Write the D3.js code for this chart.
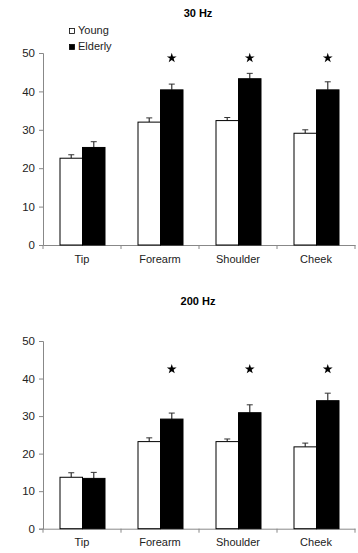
<!DOCTYPE html>
<html><head><meta charset="utf-8">
<script src="https://cdn.jsdelivr.net/npm/d3@7"></script>
<style>
body{margin:0;background:#fff;}
svg{display:block;font-family:Arial,"Liberation Sans",Helvetica,sans-serif;}
</style></head>
<body><svg id="c" width="358" height="553"></svg>
<script>
const categories = ["Tip","Forearm","Shoulder","Cheek"];
const series = ["Young","Elderly"];
const yTicks = [0,10,20,30,40,50];

const young30 = [22.6,32.0,32.4,29.1];
const youngErr30 = [0.9,1.1,0.8,0.9];
const elderly30 = [25.4,40.4,43.3,40.4];
const elderlyErr30 = [1.5,1.5,1.4,2.1];
const stars30 = [null,48.7,48.7,48.7];

const young200 = [13.7,23.2,23.2,21.8];
const youngErr200 = [1.2,1.0,0.7,1.0];
const elderly200 = [13.4,29.2,30.9,34.1];
const elderlyErr200 = [1.6,1.6,2.1,2.0];
const stars200 = [null,42.5,42.5,42.5];

const panels = [
  {title:"30 Hz", young:young30, yErr:youngErr30, elderly:elderly30, eErr:elderlyErr30, stars:stars30, top:53, bottom:245, titleY:17, legend:true},
  {title:"200 Hz", young:young200, yErr:youngErr200, elderly:elderly200, eErr:elderlyErr200, stars:stars200, top:341, bottom:528.7, titleY:305, legend:false}
];

const svg = d3.select("#c");
const x0 = 43, x1 = 355;
const x = d3.scaleBand().domain(categories).range([x0,x1]).paddingInner(0).paddingOuter(0);
const xs = d3.scaleBand().domain(series).range([17, x.bandwidth()-16]);
const fills = {Young:"#fff", Elderly:"#000"};

panels.forEach(p => {
  const y = d3.scaleLinear().domain([0,50]).range([p.bottom,p.top]);
  const g = svg.append("g");
  g.append("text").attr("x",198).attr("y",p.titleY).attr("text-anchor","middle")
    .attr("font-size",11).attr("font-weight","bold").text(p.title);

  // y axis
  const ya = g.append("g").attr("transform",`translate(${x0},0)`)
    .call(d3.axisLeft(y).tickValues(yTicks).tickSize(4).tickPadding(4));
  ya.select(".domain").attr("stroke","#888");
  ya.selectAll(".tick line").attr("stroke","#888");
  ya.selectAll("text").attr("font-size",11.5).attr("fill","#222").attr("font-family","Arial, Liberation Sans, sans-serif");

  // x axis
  const xa = g.append("g").attr("transform",`translate(0,${p.bottom})`)
    .call(d3.axisBottom(x).tickSize(0).tickPadding(10));
  xa.select(".domain").attr("stroke","#888");
  xa.selectAll("text").attr("font-size",11).attr("fill","#222").attr("font-family","Arial, Liberation Sans, sans-serif");
  const bounds = [x0, ...categories.slice(1).map(c=>x(c)), x1];
  g.selectAll(".bt").data(bounds).join("line")
    .attr("x1",d=>d).attr("x2",d=>d).attr("y1",p.bottom).attr("y2",p.bottom+4).attr("stroke","#888");

  const rows = [];
  categories.forEach((c,i) => {
    rows.push({c, s:"Young", v:p.young[i], e:p.yErr[i]});
    rows.push({c, s:"Elderly", v:p.elderly[i], e:p.eErr[i]});
  });
  // error bars (upper only)
  rows.forEach(r => {
    const cx = x(r.c)+xs(r.s)+xs.bandwidth()/2;
    g.append("line").attr("x1",cx).attr("x2",cx).attr("y1",y(r.v)).attr("y2",y(r.v+r.e))
      .attr("stroke","#444").attr("stroke-width",1.3);
    g.append("line").attr("x1",cx-3).attr("x2",cx+3).attr("y1",y(r.v+r.e)).attr("y2",y(r.v+r.e))
      .attr("stroke","#333").attr("stroke-width",1);
  });
  g.selectAll(".bar").data(rows).join("rect")
    .attr("x",d=>x(d.c)+xs(d.s)).attr("width",xs.bandwidth())
    .attr("y",d=>y(d.v)).attr("height",d=>y(0)-y(d.v))
    .attr("fill",d=>fills[d.s]).attr("stroke","#000").attr("stroke-width",1);

  // stars
  categories.forEach((c,i) => {
    if (p.stars[i]==null) return;
    const cx = x(c)+xs("Elderly")+xs.bandwidth()/2;
    g.append("path").attr("d", d3.symbol(d3.symbolStar, 30)())
      .attr("transform",`translate(${cx},${y(p.stars[i])})`).attr("fill","#000");
  });

  if (p.legend) {
    series.forEach((s,i) => {
      const ly = 28 + i*16;
      g.append("rect").attr("x",69.5).attr("y",ly+0.5).attr("width",5).attr("height",5)
        .attr("fill",fills[s]).attr("stroke","#000").attr("stroke-width",0.8);
      g.append("text").attr("x",78).attr("y",ly+6).attr("font-size",11).attr("fill","#222").text(s);
    });
  }
});
</script></body></html>
